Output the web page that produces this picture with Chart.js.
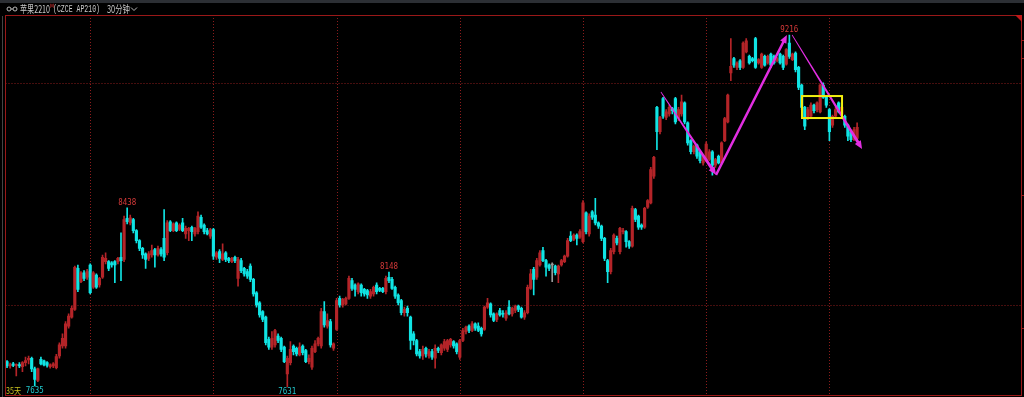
<!DOCTYPE html>
<html>
<head>
<meta charset="utf-8">
<script src="https://cdn.jsdelivr.net/npm/chart.js@4.4.0/dist/chart.umd.min.js"></script>
<style>
html, body { margin: 0; padding: 0; background: #000; }
#wrap { width: 1024px; height: 397px; position: relative; }
</style>
</head>
<body>
<div id="wrap"><canvas id="myChart"></canvas></div>
<script>
// 30 minute bars (price units)
const opens = [7745,7725,7735,7728,7732,7722,7740,7752,7760,7712,7660,7755,7748,7740,7722,7725,7718,7770,7815,7815,
7905,7945,7980,8165,8105,8145,8125,8180,8080,8135,8090,8125,8195,8195,8190,8195,8195,8215,8205,8390,
8370,8385,8335,8290,8255,8230,8210,8225,8250,8225,8250,8300,8235,8375,8335,8370,8340,8370,8320,8335,
8350,8320,8330,8395,8360,8335,8310,8340,8215,8240,8205,8235,8210,8195,8215,8120,8200,8165,8150,8175,
8115,8055,8010,7970,7945,7845,7810,7820,7860,7850,7810,7690,7740,7815,7805,7775,7815,7795,7745,7720,
7790,7825,7815,7970,7905,7925,7805,7890,8030,8000,8005,8030,8110,8090,8060,8090,8070,8065,8040,8050,
8090,8075,8075,8060,8125,8115,8080,8045,8020,7965,7985,7945,7870,7840,7790,7770,7805,7770,7790,7760,
7805,7785,7805,7800,7820,7835,7825,7765,7840,7880,7905,7885,7915,7905,7895,7890,7990,8005,7960,7935,
7975,7962,7940,7990,7960,7975,7995,7985,7945,7965,8075,8160,8125,8180,8245,8200,8180,8180,8175,8140,
8180,8195,8220,8310,8295,8315,8305,8285,8415,8320,8420,8405,8370,8355,8300,8200,8150,8240,8300,8240,
8330,8330,8285,8265,8430,8400,8360,8350,8440,8460,8580,8890,8780,8930,8845,8860,8885,8930,8840,8860,
8910,8820,8740,8690,8720,8690,8640,8650,8655,8690,8630,8670,8640,8740,8825,9045,9110,9070,9100,9070,
9140,9120,9110,9200,9090,9070,9120,9090,9130,9120,9100,9130,9120,9085,9180,9105,9135,9070,8990,8890,
8845,8850,8900,8880,8870,8990,8935,8880,8810,8850,8910,8860,8850,8810,8780,8745,8750];
const highs = [7750,7738,7742,7735,7740,7745,7765,7770,7765,7720,7716,7765,7752,7745,7735,7740,7778,7830,7870,7925,
7960,7995,8175,8180,8150,8155,8160,8185,8150,8140,8125,8225,8235,8200,8195,8200,8215,8325,8400,8438,
8405,8390,8340,8295,8260,8235,8240,8270,8255,8265,8258,8430,8380,8380,8370,8375,8365,8390,8355,8350,
8355,8350,8420,8405,8365,8345,8345,8345,8240,8250,8275,8240,8215,8215,8220,8215,8210,8170,8160,8185,
8120,8060,8015,7975,7950,7855,7880,7890,7870,7855,7815,7770,7835,7820,7810,7830,7820,7800,7775,7815,
7840,7855,7985,8015,7960,7935,7830,8030,8040,8030,8035,8130,8120,8095,8100,8095,8075,8070,8070,8085,
8100,8080,8080,8130,8148,8125,8085,8050,8025,7990,7995,7950,7880,7845,7800,7815,7810,7800,7800,7820,
7810,7825,7845,7845,7850,7840,7830,7845,7895,7905,7910,7925,7920,7920,7900,7995,8030,8010,7965,7965,
7985,7975,7975,8020,7990,8000,8000,7990,7975,8090,8160,8170,8210,8245,8260,8205,8185,8190,8180,8180,
8205,8225,8300,8330,8320,8320,8340,8470,8420,8410,8425,8480,8375,8360,8305,8205,8255,8320,8310,8350,
8345,8335,8290,8445,8435,8405,8365,8440,8475,8620,8670,8895,8850,8935,8880,8900,8890,8935,8890,8945,
8915,8825,8745,8720,8725,8695,8675,8735,8700,8695,8660,8675,8735,8845,8950,9200,9115,9095,9105,9185,
9200,9125,9115,9205,9110,9135,9125,9125,9135,9125,9115,9135,9125,9155,9216,9135,9140,9075,8995,8895,
8890,8910,8905,8915,8995,9000,8940,8885,8855,8890,8915,8895,8855,8815,8785,8800,8820];
const lows = [7718,7715,7722,7680,7718,7700,7725,7735,7700,7635,7655,7730,7725,7720,7715,7718,7712,7760,7805,7805,
7895,7940,7975,8060,8100,8110,8115,8050,8075,8075,8080,8120,8185,8155,8170,8100,8185,8110,8195,8365,
8360,8325,8280,8245,8210,8165,8200,8215,8170,8220,8220,8200,8225,8330,8330,8330,8335,8330,8300,8290,
8290,8310,8320,8345,8320,8315,8300,8205,8205,8190,8200,8195,8190,8190,8190,8085,8145,8130,8120,8105,
8040,7990,7945,7925,7820,7800,7800,7810,7830,7790,7740,7631,7730,7775,7770,7770,7775,7740,7735,7710,
7785,7815,7805,7900,7895,7810,7795,7885,7990,7990,8000,8025,8065,8040,8050,8040,8040,8030,8030,8040,
8050,8060,8055,8050,8100,8070,8030,8000,7955,7950,7950,7800,7820,7770,7760,7755,7765,7760,7755,7715,
7785,7775,7795,7790,7810,7805,7780,7755,7835,7870,7875,7880,7885,7880,7860,7885,7985,7945,7925,7925,
7950,7945,7930,7955,7950,7965,7970,7940,7935,7960,8070,8045,8115,8175,8195,8130,8155,8105,8135,8100,
8175,8190,8215,8285,8290,8270,8300,8280,8320,8310,8385,8360,8345,8290,8200,8100,8140,8230,8270,8230,
8320,8260,8255,8260,8375,8340,8340,8345,8435,8455,8570,8700,8770,8840,8835,8850,8860,8815,8830,8850,
8815,8720,8680,8680,8660,8640,8630,8645,8650,8585,8620,8635,8635,8735,8820,9010,9070,9060,9060,9065,
9135,9085,9095,9065,9085,9065,9075,9085,9070,9085,9095,9085,9060,9080,9110,9100,9050,8970,8880,8790,
8835,8845,8865,8870,8865,8930,8890,8740,8800,8845,8865,8855,8800,8740,8735,8740,8745];
const closes = [7725,7732,7728,7732,7725,7740,7750,7760,7712,7665,7712,7735,7730,7728,7730,7735,7768,7820,7850,7915,
7950,7985,8170,8070,8145,8120,8150,8055,8145,8080,8120,8215,8210,8165,8180,8180,8210,8200,8385,8375,
8392,8335,8290,8255,8225,8205,8230,8245,8225,8255,8230,8215,8370,8335,8365,8335,8360,8335,8345,8345,
8330,8345,8400,8350,8330,8320,8340,8220,8235,8210,8230,8205,8200,8210,8200,8205,8155,8140,8130,8115,
8050,8000,7955,7935,7830,7810,7850,7885,7840,7800,7745,7760,7800,7790,7780,7810,7785,7745,7760,7805,
7825,7850,7970,7910,7930,7820,7825,8020,8000,8025,8030,8120,8075,8070,8095,8055,8050,8045,8060,8080,
8060,8065,8060,8120,8110,8075,8040,8010,7965,7980,7965,7840,7840,7780,7770,7800,7780,7790,7765,7805,
7795,7820,7835,7840,7845,7815,7790,7840,7885,7900,7885,7915,7895,7885,7870,7990,8010,7955,7930,7960,
7955,7958,7965,7960,7985,7995,7980,7945,7965,8080,8140,8115,8200,8235,8200,8170,8165,8180,8145,8175,
8200,8220,8290,8290,8315,8300,8330,8460,8330,8400,8395,8370,8355,8300,8210,8150,8245,8315,8280,8345,
8335,8285,8265,8435,8385,8350,8350,8435,8470,8610,8665,8780,8845,8850,8870,8890,8875,8825,8880,8915,
8825,8730,8690,8715,8670,8650,8665,8725,8690,8630,8655,8640,8730,8840,8945,9075,9080,9090,9070,9180,
9190,9090,9100,9070,9105,9130,9080,9120,9080,9090,9110,9090,9070,9150,9120,9130,9060,8980,8890,8805,
8880,8900,8875,8910,8990,8935,8900,8780,8850,8880,8870,8890,8810,8760,8745,8790,8800];

// price labels: [bar index, 'high' | 'low', colour]
const marks = [[39, 'high', '#d83a3a'], [124, 'high', '#d83a3a'], [254, 'high', '#d83a3a'],
               [9, 'low', '#22c8cc'], [91, 'low', '#22c8cc']];
// week separators (first bar of each week)
const weekStarts = [27, 67, 107, 147, 187, 227, 267];
const priceGrid = [8000, 9000];
// drawn lines: [fromIndex, fromPrice, toIndex, toPrice, startWidth, endWidth]
const arrows = [[212.3, 8959, 230.2, 8586, 0.8, 3],
                [230.2, 8586, 253.2, 9216, 2.4, 2.4],
                [254.9, 9216, 277.6, 8703, 0.8, 3]];
const box = [258.1, 8941, 271.1, 8842];

const slots = 330;
const labels = [];
for (let i = 0; i < slots; i++) labels.push(String(i));

const upColor = '#b42428';
const downColor = '#10e4e4';
const flatColor = '#9a9a9a';
let colors = opens.map((o, i) => closes[i] > o ? upColor : (closes[i] < o ? downColor : flatColor));
let bodies = opens.map((o, i) => [o, closes[i]]);
let wicks = lows.map((l, i) => [l, highs[i]]);

function dotted(ctx, x1, y1, x2, y2) {
    ctx.save();
    ctx.strokeStyle = '#8c1c1c';
    ctx.lineWidth = 1;
    ctx.setLineDash([1, 2]);
    ctx.beginPath();
    ctx.moveTo(x1, y1);
    ctx.lineTo(x2, y2);
    ctx.stroke();
    ctx.restore();
}

function arrow(ctx, x1, y1, x2, y2, w1, w2) {
    let dx = x2 - x1, dy = y2 - y1, len = Math.hypot(dx, dy);
    let ux = dx / len, uy = dy / len, nx = -uy, ny = ux;
    let head = 8;
    let bx = x2 - ux * head, by = y2 - uy * head;
    ctx.beginPath();
    ctx.moveTo(x1 + nx * w1 / 2, y1 + ny * w1 / 2);
    ctx.lineTo(bx + nx * w2 / 2, by + ny * w2 / 2);
    ctx.lineTo(bx + nx * 3.5, by + ny * 3.5);
    ctx.lineTo(x2, y2);
    ctx.lineTo(bx - nx * 3.5, by - ny * 3.5);
    ctx.lineTo(bx - nx * w2 / 2, by - ny * w2 / 2);
    ctx.lineTo(x1 - nx * w1 / 2, y1 - ny * w1 / 2);
    ctx.closePath();
    ctx.fill();
}

const deco = {
    id: 'deco',
    beforeDraw(chart) {
        const c = chart.ctx;
        c.save();
        c.fillStyle = '#000';
        c.fillRect(0, 0, chart.width, chart.height);
        c.fillStyle = '#2c2f34';
        c.fillRect(0, 0, chart.width, 3);
        c.restore();
    },
    beforeDatasetsDraw(chart) {
        const c = chart.ctx, a = chart.chartArea;
        const xs = chart.scales.x, ys = chart.scales.y;
        for (let p of priceGrid) {
            let y = Math.round(ys.getPixelForValue(p)) + 0.5;
            dotted(c, a.left, y, a.right, y);
        }
        for (let w of weekStarts) {
            let x = Math.round(xs.getPixelForValue(w)) + 0.5;
            dotted(c, x, a.top, x, a.bottom);
        }
    },
    afterDatasetsDraw(chart) {
        const c = chart.ctx, a = chart.chartArea;
        const xs = chart.scales.x, ys = chart.scales.y;
        const px = v => xs.getPixelForValue(0) + v * (xs.getPixelForValue(1) - xs.getPixelForValue(0));
        c.save();

        // arrows and box
        c.fillStyle = '#e22ee2';
        for (let r of arrows) {
            arrow(c, px(r[0]), ys.getPixelForValue(r[1]), px(r[2]), ys.getPixelForValue(r[3]), r[4], r[5]);
        }
        c.strokeStyle = '#f2ee10';
        c.lineWidth = 2;
        let bx1 = px(box[0]), bx2 = px(box[2]);
        let by1 = ys.getPixelForValue(box[1]), by2 = ys.getPixelForValue(box[3]);
        c.strokeRect(bx1, by1, bx2 - bx1, by2 - by1);

        // price marks
        c.font = '9px "DejaVu Sans Mono"';
        c.textAlign = 'center';
        c.textBaseline = 'middle';
        for (let m of marks) {
            let i = m[0];
            let v = m[1] == 'high' ? highs[i] : lows[i];
            let y = ys.getPixelForValue(v) + (m[1] == 'high' ? -5 : 5);
            c.fillStyle = m[2];
            c.fillText(String(v), xs.getPixelForValue(i), y, 18);
        }
        c.fillStyle = '#c8c020';
        c.textAlign = 'left';
        c.font = '9px "Noto Sans CJK SC"';
        c.fillText('35天', 6, 390.5, 15);

        // frame
        c.strokeStyle = '#9a1818';
        c.lineWidth = 1;
        c.strokeRect(5.5, 15.5, 1016, 380);
        c.strokeStyle = '#444';
        c.beginPath();
        c.moveTo(2.5, 16);
        c.lineTo(2.5, 397);
        c.stroke();
        c.fillStyle = '#c01818';
        c.beginPath();
        c.moveTo(1015, 15);
        c.lineTo(1022, 15);
        c.lineTo(1022, 22);
        c.closePath();
        c.fill();
        c.strokeStyle = '#9a1818';
        for (let t of [40, 58, 195, 328]) {
            c.beginPath();
            c.moveTo(1022, t + 0.5);
            c.lineTo(1024, t + 0.5);
            c.stroke();
        }

        // title
        c.strokeStyle = '#b8b8b8';
        c.beginPath();
        c.arc(9, 9, 2, 0, Math.PI * 2);
        c.moveTo(17, 9);
        c.arc(15, 9, 2, 0, Math.PI * 2);
        c.moveTo(11, 9);
        c.lineTo(13, 9);
        c.stroke();
        c.fillStyle = '#cacaca';
        c.textBaseline = 'middle';
        c.font = '10px "Noto Sans CJK SC"';
        c.fillText('苹果2210', 20, 9, 30);
        c.fillStyle = '#e03030';
        c.font = '6px "DejaVu Sans"';
        c.fillText('M', 50, 6, 4);
        c.fillStyle = '#cacaca';
        c.font = '10px "Liberation Mono"';
        c.fillText('(CZCE AP210)', 53, 9.5, 47);
        c.font = '10px "Noto Sans CJK SC"';
        c.fillText('30分钟', 107, 9, 23);
        c.beginPath();
        c.moveTo(131, 7.5);
        c.lineTo(134, 10.5);
        c.lineTo(137, 7.5);
        c.stroke();
        c.restore();
    }
};

const ctx = document.getElementById('myChart');

let chart = new Chart(ctx, {
    type: 'bar',
    data: {
        labels: labels,
        datasets: [{
            label: 'body',
            data: bodies,
            backgroundColor: colors,
            borderWidth: 0,
            barThickness: 2.5,
            minBarLength: 1,
            grouped: false,
            order: 0
        }, {
            label: 'wick',
            data: wicks,
            backgroundColor: colors,
            borderWidth: 0,
            barThickness: 1,
            grouped: false,
            order: 1
        }]
    },
    options: {
        responsive: true,
        maintainAspectRatio: false,
        animation: false,
        devicePixelRatio: 1,
        layout: { padding: { left: 5.5, right: 2.1, top: 15, bottom: 1 } },
        plugins: {
            legend: { display: false },
            tooltip: { enabled: false }
        },
        scales: {
            x: { display: false, offset: true },
            y: { display: false, min: 7590, max: 9306 }
        }
    },
    plugins: [deco]
});
</script>
</body>
</html>
